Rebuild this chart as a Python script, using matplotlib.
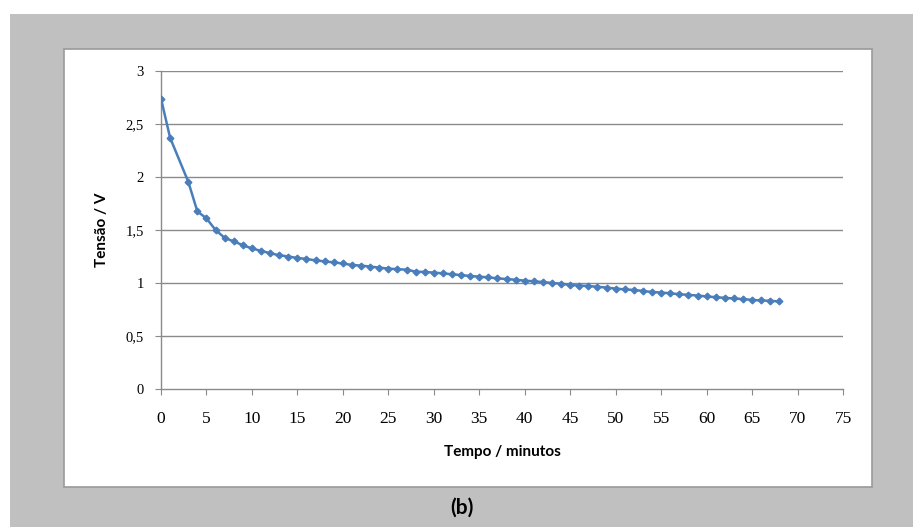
import matplotlib
matplotlib.use("Agg")
import matplotlib.pyplot as plt
from matplotlib.patches import Rectangle

# tempo (minutos) e tensao (V)
tempo = [0, 1, 3, 4, 5, 6, 7, 8, 9, 10, 11, 12, 13, 14, 15, 16, 17, 18, 19, 20,
         21, 22, 23, 24, 25, 26, 27, 28, 29, 30, 31, 32, 33, 34, 35, 36, 37, 38,
         39, 40, 41, 42, 43, 44, 45, 46, 47, 48, 49, 50, 51, 52, 53, 54, 55, 56,
         57, 58, 59, 60, 61, 62, 63, 64, 65, 66, 67, 68]
tensao = [2.74, 2.37, 1.955, 1.675, 1.61, 1.50, 1.426, 1.392, 1.357, 1.326,
          1.303, 1.281, 1.262, 1.25, 1.236, 1.227, 1.213, 1.204, 1.194, 1.184,
          1.17, 1.164, 1.155, 1.145, 1.136, 1.13, 1.126, 1.107, 1.104, 1.098,
          1.091, 1.082, 1.075, 1.066, 1.06, 1.053, 1.044, 1.037, 1.031, 1.022,
          1.016, 1.009, 1.0, 0.994, 0.981, 0.976, 0.971, 0.964, 0.957, 0.947,
          0.94, 0.934, 0.925, 0.915, 0.91, 0.903, 0.894, 0.888, 0.882, 0.873,
          0.866, 0.86, 0.854, 0.848, 0.841, 0.835, 0.832, 0.826]

xticks = [0, 5, 10, 15, 20, 25, 30, 35, 40, 45, 50, 55, 60, 65, 70, 75]
yticks = [0, 0.5, 1, 1.5, 2, 2.5, 3]
ytick_labels = ['0', '0,5', '1', '1,5', '2', '2,5', '3']

W, H = 913, 527
fig = plt.figure(figsize=(W/100, H/100), dpi=100)
fig.patch.set_facecolor('white')

# fundo cinza e caixa do grafico (coordenadas em pixels)
def px_rect(x0, y0, x1, y1, **kw):
    return Rectangle((x0/W, 1-y1/H), (x1-x0)/W, (y1-y0)/H, transform=fig.transFigure, **kw)

fig.patches.append(px_rect(10, 14, 913, 527, facecolor='#c0c0c0', edgecolor='none', zorder=0))
fig.patches.append(px_rect(64, 49, 872, 487, facecolor='white', edgecolor='#9a9a9a', lw=1.2, zorder=1))

ax = fig.add_axes([161/W, 1-389/H, (843-161)/W, (389-71)/H])
ax.set_facecolor('none')
ax.set_zorder(2)

grid_c = '#8a8a8a'
for y in yticks[1:]:
    ax.axhline(y, color=grid_c, lw=1.0, zorder=1)

ax.plot(tempo, tensao, color='#4a7ebb', lw=1.8, marker='D', ms=3.4,
        markeredgecolor='#4a7ebb', zorder=3)

ax.set_xlim(0, 75)
ax.set_ylim(0, 3)
ax.set_xticks(xticks)
ax.set_yticks(yticks)
ax.set_yticklabels(ytick_labels)

for s in ['top', 'right']:
    ax.spines[s].set_visible(False)
for s in ['left', 'bottom']:
    ax.spines[s].set_color(grid_c)
    ax.spines[s].set_linewidth(1.0)

ax.tick_params(axis='y', direction='out', length=4.5, width=0.8, color=grid_c, pad=8,
               labelsize=10.5)
ax.tick_params(axis='x', direction='out', length=4.5, width=0.8, color=grid_c, pad=11,
               labelsize=12.5)
for lab in ax.get_xticklabels() + ax.get_yticklabels():
    lab.set_fontfamily('Liberation Serif')

ax.set_xlabel('Tempo / minutos', fontfamily='Lato', fontweight='bold', fontsize=11, labelpad=13)
ax.set_ylabel('Tensão / V', fontfamily='Lato', fontweight='bold', fontsize=11, labelpad=12)

fig.text(462/W, 1-508/H, '(b)', fontfamily='Lato', fontweight='bold', fontsize=15,
         ha='center', va='center')

fig.savefig('out.png', dpi=100)
